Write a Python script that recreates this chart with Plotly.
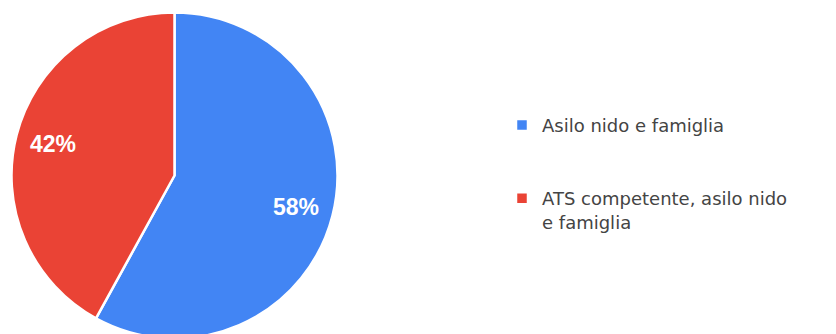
import math
import plotly.graph_objects as go

labels = ["Asilo nido e famiglia", "ATS competente, asilo nido<br>e famiglia"]
legend_labels = ["Asilo nido e famiglia<br> <br> ", "ATS competente, asilo nido<br>e famiglia"]
values = [58, 42]
colors = ["#4285F4", "#EA4335"]

W, H = 836, 352
# pie box (px from left/top)
px0, px1 = 11.5, 337.5
py0, py1 = 12.5, 338.5

fig = go.Figure(
    go.Pie(
        labels=legend_labels,
        values=values,
        sort=False,
        direction="clockwise",
        rotation=0,
        marker=dict(colors=colors, line=dict(color="white", width=2.5)),
        textinfo="none",
        domain=dict(x=[px0 / W, px1 / W], y=[(H - py1) / H, (H - py0) / H]),
        hoverinfo="label+percent",
    )
)

# percentage labels placed along each slice's mid-angle (derived from values)
total = sum(values)
cx = (px0 + px1) / 2
cy = (py0 + py1) / 2
r = (px1 - px0) / 2
cum = 0.0
for v in values:
    frac = v / total
    mid = (cum + frac / 2) * 2 * math.pi  # clockwise from 12 o'clock
    cum += frac
    lx = cx + 0.77 * r * math.sin(mid)
    ly = cy - 0.77 * r * math.cos(mid)
    fig.add_annotation(
        x=lx / W, y=1 - ly / H, xref="paper", yref="paper",
        text=f"{frac:.0%}", showarrow=False,
        xanchor="center", yanchor="middle",
        font=dict(family="Liberation Sans, Arial", size=23, color="white", weight="bold"),
    )

fig.update_layout(
    width=W,
    height=H,
    margin=dict(l=0, r=0, t=0, b=0),
    paper_bgcolor="white",
    plot_bgcolor="white",
    showlegend=True,
    legend=dict(
        x=502 / W,
        y=1 - 106.8 / H,
        xanchor="left",
        yanchor="top",
        valign="top",
        font=dict(family="DejaVu Sans", size=18, color="#444444"),
        bgcolor="rgba(0,0,0,0)",
        borderwidth=0,
    ),
)

fig.write_html(
    "out.html",
    post_script="document.documentElement.style.overflow='hidden';document.body.style.overflow='hidden';",
)
